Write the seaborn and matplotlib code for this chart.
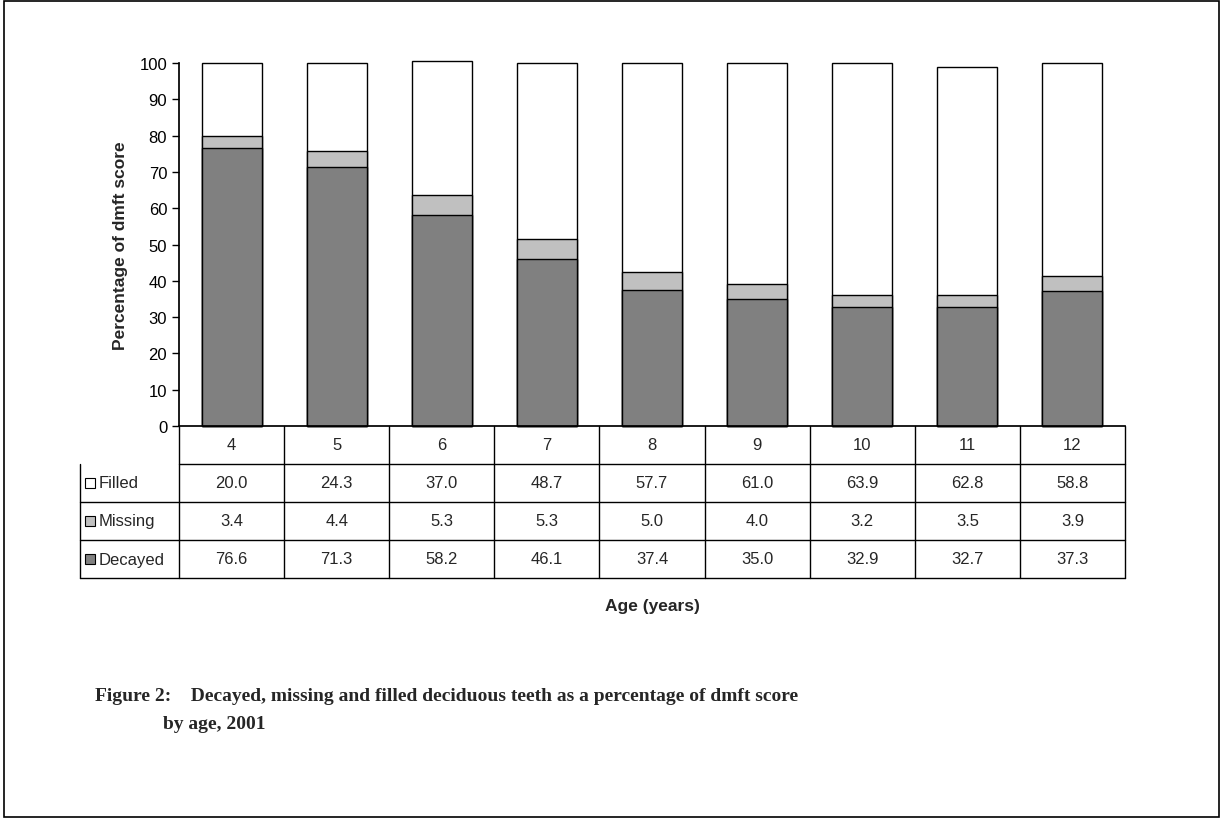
import matplotlib
matplotlib.use("Agg")
import matplotlib.pyplot as plt
import pandas as pd
import seaborn as sns
from matplotlib.patches import Rectangle

ages = ["4", "5", "6", "7", "8", "9", "10", "11", "12"]
filled = [20.0, 24.3, 37.0, 48.7, 57.7, 61.0, 63.9, 62.8, 58.8]
missing = [3.4, 4.4, 5.3, 5.3, 5.0, 4.0, 3.2, 3.5, 3.9]
decayed = [76.6, 71.3, 58.2, 46.1, 37.4, 35.0, 32.9, 32.7, 37.3]
series = ["Filled", "Missing", "Decayed"]
colors = {"Filled": "white", "Missing": "#c0c0c0", "Decayed": "#808080"}

sns.set_theme(style="white")
plt.rcParams["font.family"] = ["Liberation Sans", "DejaVu Sans"]

df = pd.DataFrame({"age": ages, "Filled": filled, "Missing": missing, "Decayed": decayed})
df["dm"] = df["Decayed"] + df["Missing"]
df["dmf"] = df["dm"] + df["Filled"]

fig = plt.figure(figsize=(12.23, 8.2), dpi=100)
fig.patches.append(Rectangle((0.003, 0.003), 0.994, 0.994, transform=fig.transFigure,
                             fill=False, edgecolor="black", linewidth=1.2))
ax = fig.add_axes([179 / 1223, 1 - 427 / 820, 946 / 1223, 363 / 820])

w = 0.57
for col, c in [("dmf", colors["Filled"]), ("dm", colors["Missing"]), ("Decayed", colors["Decayed"])]:
    sns.barplot(data=df, x="age", y=col, color=c, edgecolor="black", linewidth=1.0,
                width=w, saturation=1, ax=ax)
for p in ax.patches:
    p.set_clip_on(False)

ax.set_xlim(-0.5, len(ages) - 0.5)
ax.set_ylim(0, 100)
ax.set_yticks(range(0, 101, 10))
ax.tick_params(axis="y", labelsize=12, length=5, direction="out", left=True, width=1, colors="black")
ax.set_xticks([])
ax.set_xlabel("")
ax.set_ylabel("Percentage of dmft score", fontsize=12.5, fontweight="bold", labelpad=8)
for s in ["top", "right"]:
    ax.spines[s].set_visible(False)
ax.spines["left"].set_color("black")
ax.spines["bottom"].set_color("black")

# data table drawn under the axes, in axes-fraction coordinates
n = len(ages)
rh = (579 - 427) / 363 / 4
lw = 99 / 946
cw = 1 / n
line = dict(color="black", linewidth=1.0, transform=ax.transAxes, clip_on=False)
for i in range(1, 5):
    ax.plot([-lw if i > 1 else 0, 1], [-rh * i, -rh * i], **line)
ax.plot([-lw, -lw], [-rh, -4 * rh], **line)
for j in range(n + 1):
    ax.plot([j * cw, j * cw], [0, -4 * rh], **line)
for j, a in enumerate(ages):
    ax.text((j + 0.5) * cw, -0.5 * rh, a, ha="center", va="center", fontsize=12, transform=ax.transAxes)
for i, (s, vals) in enumerate(zip(series, (filled, missing, decayed))):
    yc = -rh * (i + 1.5)
    ax.add_patch(Rectangle((-lw + 0.005, yc - 0.014), 0.011, 0.028, transform=ax.transAxes,
                           facecolor=colors[s], edgecolor="black", linewidth=0.8, clip_on=False))
    ax.text(-lw + 0.02, yc, s, ha="left", va="center", fontsize=12, transform=ax.transAxes)
    for j, v in enumerate(vals):
        ax.text((j + 0.5) * cw, yc, f"{v:.1f}", ha="center", va="center", fontsize=12,
                transform=ax.transAxes)

fig.text((179 + 1125) / 2 / 1223, 1 - 607 / 820, "Age (years)", ha="center", va="center",
         fontsize=12.5, fontweight="bold")
fig.text(95 / 1223, 1 - 697 / 820, "Figure 2:    Decayed, missing and filled deciduous teeth as a percentage of dmft score",
         ha="left", va="center", fontsize=14, fontweight="bold", family=["Liberation Serif"])
fig.text(163 / 1223, 1 - 725 / 820, "by age, 2001", ha="left", va="center", fontsize=14,
         fontweight="bold", family=["Liberation Serif"])

fig.savefig("out.png", dpi=100)
